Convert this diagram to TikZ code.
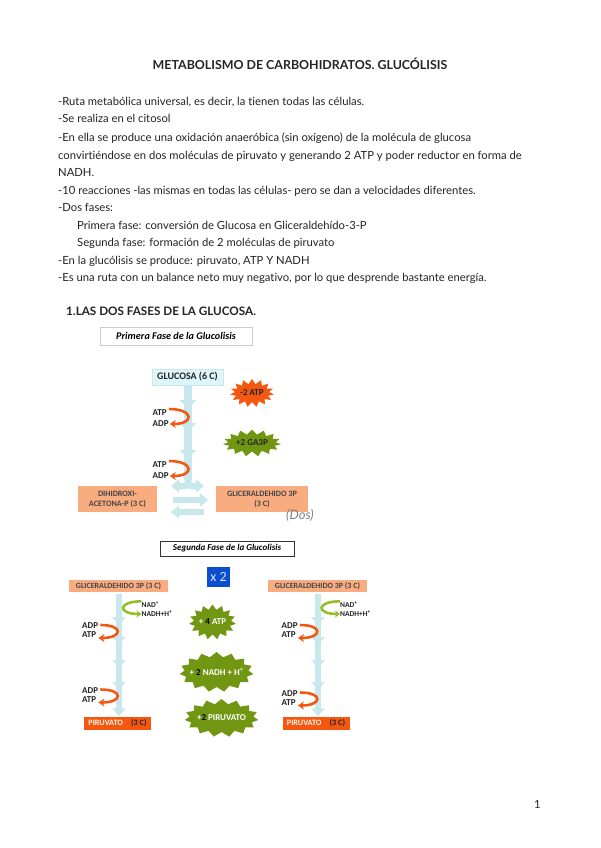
\documentclass[tikz,border=0pt]{standalone}
\usepackage{fontspec}
\setmainfont{Lato}[Ligatures=NoCommon]
\newfontfamily\boxfont{Carlito}
\usetikzlibrary{arrows.meta,shapes.symbols}
\definecolor{ink}{RGB}{35,35,40}
\definecolor{salmon}{RGB}{248,172,128}
\definecolor{paleflow}{RGB}{200,232,238}
\definecolor{paleaqua}{RGB}{222,245,250}
\definecolor{blaze}{RGB}{244,88,16}
\definecolor{leaf}{RGB}{112,150,18}
\definecolor{lime}{RGB}{150,190,40}
\definecolor{royal}{RGB}{12,78,208}
\newcommand{\comma}{,}
\tikzset{
  line/.style={anchor=base west,font=\fontsize{11.25}{13}\selectfont,text=ink,inner sep=0pt},
  phase/.style={draw=#1,fill=white,minimum height=15pt,inner sep=0pt,
    font=\boxfont\fontsize{9}{11}\selectfont\bfseries\itshape},
  sbox/.style={fill=salmon,align=center,inner sep=0pt,text=ink!85,
    font=\boxfont\fontsize{8.2}{10}\selectfont\bfseries},
  flow/.style={-{Triangle[length=8pt,width=17pt]},line width=8pt,draw=paleflow},
  thinflow/.style={-{Triangle[length=8pt,width=13pt]},line width=6.5pt,draw=paleflow},
  burst/.style={starburst,starburst points=15,starburst point height=5pt,random starburst=0,fill=#1,inner sep=0pt},
  bursttext/.style={inner sep=0pt,text=#1,font=\boxfont\fontsize{9}{11}\selectfont\bfseries},
  cof/.style={inner sep=0pt,text=ink,font=\boxfont\fontsize{9}{10}\selectfont\bfseries},
  turn/.style={-{Stealth[length=6pt,width=8pt]},line width=2.6pt,draw=#1},
  turn/.default=blaze,
}
\begin{document}
\begin{tikzpicture}[x=1pt,y=-1pt]
  \useasboundingbox[fill=white] (0,0) rectangle (600,848);
  \node[font=\fontsize{12.4}{14}\selectfont\bfseries,text=ink,inner sep=0pt] (title) at (300,64) {METABOLISMO DE CARBOHIDRATOS. GLUCÓLISIS};
  \foreach \i/\x/\y/\t in {
    1/58/106/-Ruta metabólica universal\comma{} es decir\comma{} la tienen todas las células.,
    2/58/123/-Se realiza en el citosol,
    3/58/141/-En ella se produce una oxidación anaeróbica (sin oxígeno) de la molécula de glucosa,
    4/58/159/convirtiéndose en dos moléculas de piruvato y generando 2 ATP y poder reductor en forma de,
    5/58/176/NADH.,
    6/58/194/-10 reacciones -las mismas en todas las células- pero se dan a velocidades diferentes.,
    7/58/211/-Dos fases:,
    8/77/229/Primera fase: conversión de Glucosa en Gliceraldehído-3-P,
    9/77/246/Segunda fase: formación de 2 moléculas de piruvato,
    10/58/264/-En la glucólisis se produce: piruvato\comma{} ATP Y NADH,
    11/58/281/-Es una ruta con un balance neto muy negativo\comma{} por lo que desprende bastante energía.}
  {
    \node[line] (l\i) at (\x,\y) {\t};
  }
  \node[line,font=\fontsize{11.7}{13}\selectfont\bfseries] (sec) at (66,315) {1.LAS DOS FASES DE LA GLUCOSA.};
  \node[line] (pagenum) at (534,808) {1};

  % primera fase
  \node[phase=black!20,minimum width=152pt,minimum height=18pt,font=\boxfont\fontsize{10.2}{12}\selectfont\bfseries\itshape] (fase1) at (176,336) {Primera Fase de la Glucolisis};
  \node[sbox,draw=paleflow,fill=paleaqua,minimum width=71pt,minimum height=16pt,text=ink,font=\boxfont\fontsize{10}{12}\selectfont\bfseries] (gluc) at (187.5,377) {GLUCOSA (6 C)};
  \node[sbox,minimum width=79pt,minimum height=26pt] (dhap) at (117.5,499) {DIHIDROXI-\\ACETONA-P (3 C)};
  \node[sbox,minimum width=92pt,minimum height=26pt] (ga3p) at (262,499) {GLICERALDEHIDO 3P\\(3 C)};
  % estallidos
  \foreach \n/\x/\y/\w/\h/\c/\k/\t in {
    1/252/393/44/28/blaze/ink/-2 ATP,
    2/252/443/58/27/leaf/ink/+2 GA3P,
    3/212.5/622/47/35/leaf/white/+ {\color{black}4} ATP,
    4/216.5/672/74/40/leaf/white/+ {\color{black}2} NADH + H\textsuperscript{+},
    5/221.5/718/74/38/leaf/white/+{\color{black}2} PIRUVATO}
  {
    \node[burst=\c,minimum width=\w pt,minimum height=\h pt] (b\n) at (\x,\y) {};
    \node[bursttext=\k] (bt\n) at (b\n) {\t};
  }
  \coordinate (p1) at (188,408);
  \coordinate (p2) at (188,431);
  \coordinate (p3) at (188,458);
  \coordinate (p4) at (188,480);
  \coordinate (pl) at (171,486);
  \coordinate (pr) at (204,486);
  \draw[line width=8pt,draw=paleflow] (gluc.south -| p1) -- (p4);
  \draw[flow] (gluc.south -| p1) -- (p1);
  \draw[flow] (p1) -- (p2);
  \draw[flow] (p2) -- (p3);
  \draw[thinflow,rounded corners=3pt] (p4) -- (188,486) -- (pl);
  \draw[thinflow,rounded corners=3pt] (p4) -- (188,486) -- (pr);
  \coordinate (e1a) at (173,500);
  \coordinate (e1b) at (208,500);
  \coordinate (e2a) at (204,512);
  \coordinate (e2b) at (171,512);
  \draw[thinflow] (e1a) -- (e1b);
  \draw[thinflow] (e2a) -- (e2b);
  \foreach \n/\y in {a/413,b/465}
  {
    \node[cof,anchor=west] (atp\n) at (152.5,\y) {ATP};
    \node[cof,anchor=west] (adp\n) at (152.5,\y+11) {ADP};
    \draw[turn] ([xshift=2pt,yshift=4pt]atp\n.east) to[out=0,in=0,distance=25pt] ([xshift=1pt]adp\n.east);
  }
  \node[text=black!50,inner sep=0pt,font=\fontsize{13}{15}\selectfont\itshape] (dos) at (300,515) {(Dos)};

  % segunda fase
  \node[phase=black!80,minimum width=134pt] (fase2) at (227,548.5) {Segunda Fase de la Glucolisis};
  \node[fill=royal,text=white!85!royal,minimum width=23pt,minimum height=20pt,inner sep=0pt,font=\boxfont\fontsize{14}{16}\selectfont] (times) at (218.5,577) {x 2};
  \foreach \n/\gx/\ax/\px/\tx/\ux/\ya/\yb in {
    l/118.5/119/117.5/141.5/82/630.5/695,
    r/317.5/318/316/340/281.5/630.5/698}
  {
    \node[sbox,minimum width=99pt,minimum height=12pt,font=\boxfont\fontsize{8}{10}\selectfont\bfseries] (gap\n) at (\gx,586) {GLICERALDEHIDO 3P (3 C)};
    \node[sbox,fill=blaze,text=white!85!salmon,minimum width=67pt,minimum height=13pt] (pir\n) at (\px,723) {PIRUVATO\quad{\color{ink}(3 C)}};
    \coordinate (s\n1) at (\ax,594);
    \coordinate (s\n2) at (\ax,625);
    \coordinate (s\n3) at (\ax,645);
    \coordinate (s\n4) at (\ax,668);
    \coordinate (s\n5) at (\ax,690);
    \draw[line width=6.5pt,draw=paleflow] (s\n1) -- (s\n5);
    \draw[thinflow] (s\n1) -- (s\n2);
    \draw[thinflow] (s\n2) -- (s\n3);
    \draw[thinflow] (s\n3) -- (s\n4);
    \draw[thinflow] (s\n4) -- (s\n5);
    \draw[thinflow] (s\n5) -- (pir\n.north -| s\n5);
    \node[cof,anchor=west,font=\boxfont\fontsize{7.5}{9}\selectfont\bfseries] (nad\n) at (\tx,604.5) {NAD\textsuperscript{+}};
    \node[cof,anchor=west,font=\boxfont\fontsize{7.5}{9}\selectfont\bfseries] (nadh\n) at (\tx,614) {NADH+H\textsuperscript{+}};
    \draw[turn=lime,-{Stealth[length=5pt,width=7pt]}] (nad\n.north west) to[out=180,in=180,distance=24pt] (nadh\n.west);
    \foreach \k/\y in {a/\ya,b/\yb}
    {
      \node[cof,anchor=west] (adp\n\k) at (\ux,\y-4.5) {ADP};
      \node[cof,anchor=west] (atp\n\k) at (\ux,\y+4.5) {ATP};
      \draw[turn] ([xshift=2pt,yshift=1pt]adp\n\k.east) to[out=0,in=0,distance=24pt] ([xshift=2pt,yshift=-3pt]atp\n\k.east);
    }
  }
\end{tikzpicture}
\end{document}
